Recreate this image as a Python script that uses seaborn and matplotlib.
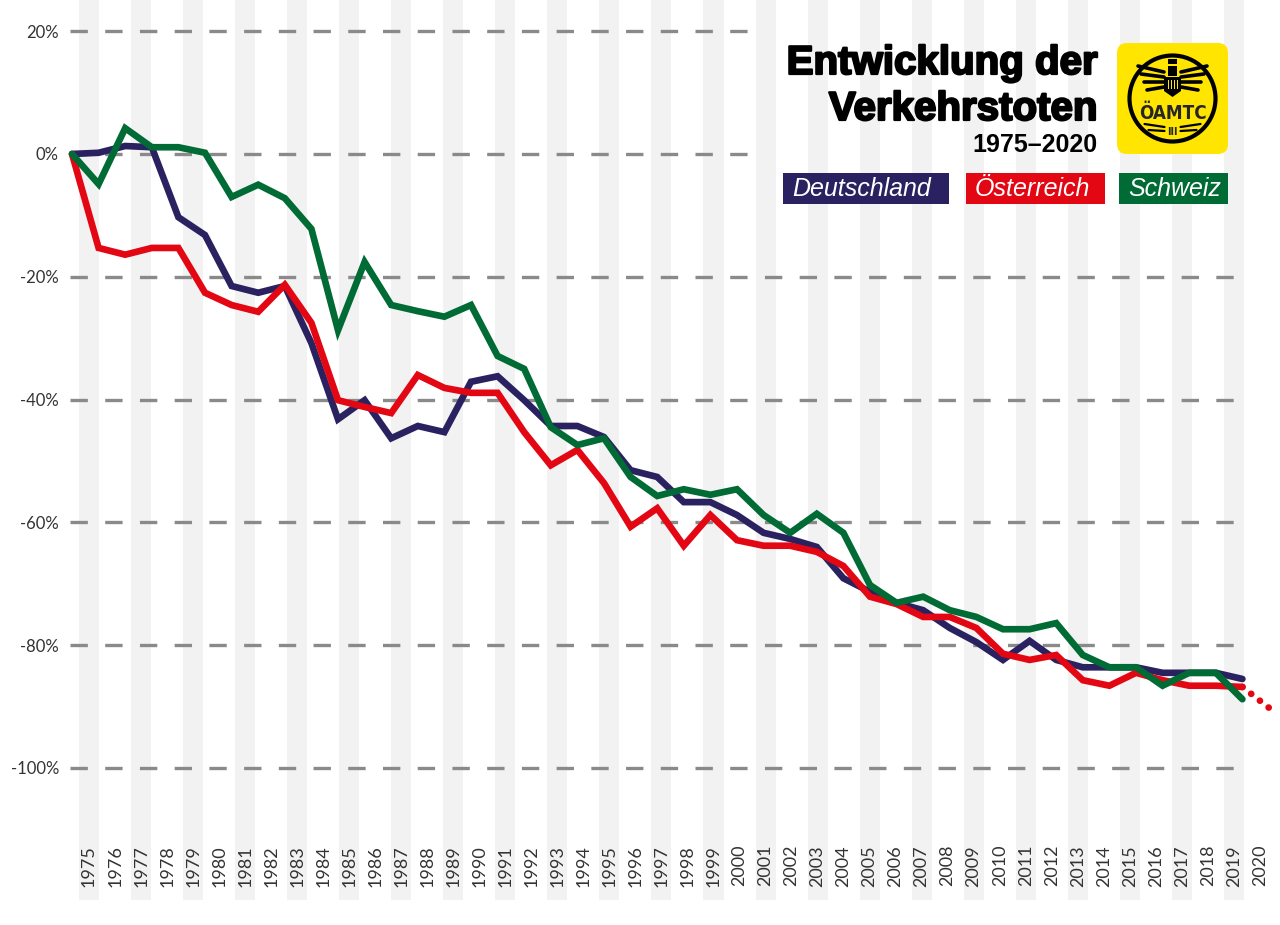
import numpy as np
import pandas as pd
import matplotlib
matplotlib.use("Agg")
import matplotlib.pyplot as plt
import matplotlib.patheffects as pe
from matplotlib.patches import Rectangle, FancyBboxPatch, Circle, Polygon
import seaborn as sns

# Veränderung der Verkehrstoten gegenüber 1975 in %
years = list(range(1975, 2020))
deutschland = [0, 0.2, 1.3, 1.1, -10.3, -13.2, -21.5, -22.6, -21.5, -30.8,
               -43.2, -40.1, -46.3, -44.3, -45.3, -37.1, -36.2, -40.1, -44.3, -44.3,
               -46.1, -51.5, -52.6, -56.7, -56.7, -58.8, -61.7, -62.7, -64.0, -69.1,
               -71.3, -73.1, -74.3, -77.2, -79.5, -82.4, -79.3, -82.4, -83.6, -83.6,
               -83.6, -84.5, -84.5, -84.5, -85.5]
oesterreich = [0, -15.3, -16.4, -15.3, -15.3, -22.6, -24.6, -25.7, -21.3, -27.5,
               -40.1, -41.2, -42.2, -36.0, -38.1, -38.9, -38.9, -45.3, -50.7, -48.2,
               -53.6, -60.7, -57.7, -63.8, -58.8, -62.9, -63.8, -63.8, -64.8, -67.1,
               -72.1, -73.3, -75.4, -75.4, -77.2, -81.4, -82.4, -81.6, -85.7, -86.6,
               -84.5, -85.7, -86.6, -86.6, -86.8]
schweiz = [0, -4.9, 4.2, 1.1, 1.1, 0.2, -7.0, -5.0, -7.2, -12.2,
           -28.7, -17.6, -24.6, -25.6, -26.5, -24.6, -32.9, -35.0, -44.5, -47.4,
           -46.3, -52.6, -55.7, -54.6, -55.5, -54.6, -58.8, -61.7, -58.6, -61.7,
           -70.2, -73.1, -72.1, -74.3, -75.4, -77.4, -77.4, -76.4, -81.6, -83.6,
           -83.6, -86.6, -84.5, -84.5, -88.8]
# gepunktete Fortsetzung Österreich bis 2020
oesterreich_trend_years = [2019, 2020]
oesterreich_trend = [-86.8, -90.2]

tick_years = list(range(1975, 2021))
y_ticks = [20, 0, -20, -40, -60, -80, -100]
countries = ["Deutschland", "Österreich", "Schweiz"]
colours = ["#2a2260", "#e30613", "#006b35"]

df = pd.DataFrame({
    "Jahr": years * 3,
    "Veränderung": deutschland + oesterreich + schweiz,
    "Land": [c for c in countries for _ in years],
})

sns.set_style("white")
plt.rcParams["font.family"] = ["Lato", "DejaVu Sans"]
plt.rcParams["lines.scale_dashes"] = False

W, H = 1280, 925
fig = plt.figure(figsize=(W / 100, H / 100), dpi=100)

# main axes: stripes, grid, tick labels
ax = fig.add_axes([64 / W, 25 / H, 1216 / W, 900 / H])
ax.set_xlim(1974.039, 2020.772)
ax.set_ylim(-121.5, 25.08)
for s in ax.spines.values():
    s.set_visible(False)

for yr in tick_years[::2]:
    ax.axvspan(yr - 0.385, yr + 0.385, color="#f2f2f2", lw=0, zorder=0)

for v in y_ticks:
    ax.axhline(v, xmin=0.005, xmax=0.572 if v >= 0 else 0.971, color="#8a8a8a",
               lw=2.4, linestyle=(0, (12.5, 12.5)), dash_capstyle="butt", zorder=1)

ax.set_yticks(y_ticks)
ax.set_yticklabels([f"{v}%" for v in y_ticks])
ax.tick_params(axis="y", length=0, pad=3.6, labelsize=12, labelcolor="#333333")
ax.set_xticks(tick_years)
ax.set_xticklabels([str(y) for y in tick_years], rotation=90)
ax.tick_params(axis="x", length=0, pad=-39.6, labelsize=13, labelcolor="#333333")

# line axes (slightly different horizontal scale than the stripes)
axl = ax.twiny()
sns.lineplot(data=df, x="Jahr", y="Veränderung", hue="Land", hue_order=countries,
             palette=colours, estimator=None, sort=False, legend=False, lw=4.8,
             solid_capstyle="round", solid_joinstyle="miter", ax=axl)
axl.plot(oesterreich_trend_years, oesterreich_trend, color=colours[1], lw=4.8,
         linestyle=(0, (0.1, 7.9)), dash_capstyle="round")
axl.set_xlim(1974.699, 2020.414)
axl.set_ylim(-121.5, 25.08)
axl.axis("off")

# overlay in pixel coordinates: title, logo, legend
deco = fig.add_axes([0, 0, 1, 1])
deco.set_xlim(0, W)
deco.set_ylim(H, 0)
deco.axis("off")

heavy = [pe.withStroke(linewidth=1.6, foreground="black")]
deco.text(1097, 74, "Entwicklung der", ha="right", va="baseline", fontsize=29,
          fontweight="bold", family="Liberation Sans", color="black", path_effects=heavy)
deco.text(1097, 120, "Verkehrstoten", ha="right", va="baseline", fontsize=29,
          fontweight="bold", family="Liberation Sans", color="black", path_effects=heavy)
deco.text(1098, 152, "1975–2020", ha="right", va="baseline", fontsize=18,
          fontweight="bold", family="Liberation Sans", color="black")

# ÖAMTC logo
yellow = "#ffe500"
deco.add_patch(FancyBboxPatch((1117, 43), 111, 111,
                              boxstyle="round,pad=0,rounding_size=10",
                              fc=yellow, ec="none"))
deco.add_patch(Circle((1172.5, 98.5), 43, fill=False, ec="black", lw=3))
for i in range(4):
    deco.plot([1164, 1138 + 3 * i], [72 + 5 * i, 66 + 8 * i], color="black", lw=2.6,
              solid_capstyle="round")
    deco.plot([1181, 1207 - 3 * i], [72 + 5 * i, 66 + 8 * i], color="black", lw=2.6,
              solid_capstyle="round")
deco.add_patch(Polygon([(1164, 77), (1181, 77), (1181, 91), (1172.5, 97), (1164, 91)],
                       closed=True, fc="black", ec="none"))
deco.add_patch(Rectangle((1168, 66), 9, 10, fc="black", ec="none"))
deco.add_patch(Rectangle((1168, 59), 9, 5, fc="black", ec="none"))
for dx in (-5, -2, 1, 4):
    deco.add_patch(Rectangle((1172.5 + dx, 80), 1.4, 9, fc=yellow, ec="none"))
deco.text(1172.5, 119, "ÖAMTC", ha="center", va="baseline", fontsize=13.5,
          fontweight="bold", family="DejaVu Sans", fontstretch="condensed")
deco.text(1172.5, 135, "III", ha="center", va="baseline", fontsize=7, fontweight="bold",
          family="DejaVu Sans")
for side in (-1, 1):
    for j in range(2):
        deco.plot([1172.5 + side * 8, 1172.5 + side * (28 - 4 * j)],
                  [127 + 4 * j, 124 + 6 * j], color="black", lw=1.6,
                  solid_capstyle="round")

# legend boxes
legend_boxes = [(783, 166), (966, 139), (1119, 109)]
for (x0, w), name, c in zip(legend_boxes, countries, colours):
    deco.add_patch(Rectangle((x0, 173), w, 31, fc=c, ec="none"))
    deco.text(x0 + 9, 189, name, ha="left", va="center", fontsize=18, style="italic",
              family="Liberation Sans", color="white")

fig.savefig("out.png", dpi=100)
